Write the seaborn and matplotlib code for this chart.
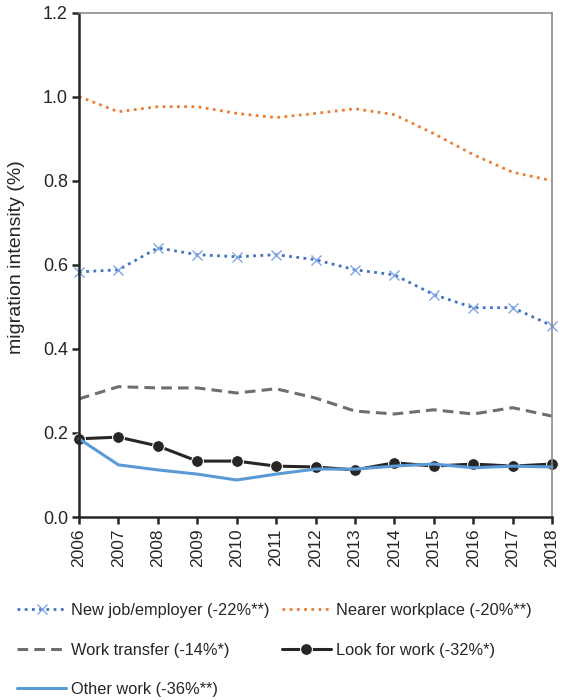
import matplotlib
matplotlib.use("Agg")
import matplotlib.pyplot as plt
import seaborn as sns
import pandas as pd

years = list(range(2006, 2019))
new_job = [0.583, 0.588, 0.640, 0.624, 0.619, 0.624, 0.612, 0.588, 0.576, 0.529, 0.498, 0.498, 0.455]
nearer_workplace = [1.000, 0.964, 0.976, 0.976, 0.960, 0.950, 0.960, 0.971, 0.957, 0.912, 0.862, 0.820, 0.800]
work_transfer = [0.281, 0.310, 0.307, 0.307, 0.295, 0.305, 0.283, 0.252, 0.245, 0.255, 0.245, 0.260, 0.240]
look_for_work = [0.186, 0.190, 0.169, 0.133, 0.133, 0.121, 0.119, 0.112, 0.129, 0.121, 0.126, 0.121, 0.126]
other_work = [0.186, 0.124, 0.112, 0.102, 0.088, 0.102, 0.114, 0.114, 0.121, 0.126, 0.117, 0.121, 0.119]

labels = [
    "New job/employer (-22%**)",
    "Nearer workplace (-20%**)",
    "Work transfer (-14%*)",
    "Look for work (-32%*)",
    "Other work (-36%**)",
]

sns.set_theme(style="white")
plt.rcParams["font.family"] = ["Liberation Sans", "DejaVu Sans"]

fig = plt.figure(figsize=(5.65, 7.0), dpi=100)
ax = fig.add_axes([79 / 565, 1 - 517 / 700, (552 - 79) / 565, (517 - 12.5) / 700])

styles = [
    (new_job, dict(color="#4472C4", linestyle=(0, (1, 1.6)), linewidth=2.0,
                   marker="x", markersize=7, markeredgewidth=1.0, markeredgecolor="#7FA6E0")),
    (nearer_workplace, dict(color="#ED7D31", linestyle=(0, (1, 1.6)), linewidth=2.0)),
    (work_transfer, dict(color="#6E6E6E", linestyle=(0, (3.5, 2)), linewidth=2.2)),
    (look_for_work, dict(color="#262626", linestyle="-", linewidth=2.2,
                         marker="o", markersize=8.5)),
    (other_work, dict(color="#5B9BD5", linestyle="-", linewidth=2.2)),
]

for (vals, kw), lab in zip(styles, labels):
    df = pd.DataFrame({"year": years, "value": vals})
    sns.lineplot(data=df, x="year", y="value", ax=ax, label=lab, clip_on=False, **kw)

ax.set_xlim(2006, 2018)
ax.set_ylim(0, 1.2)
ax.set_xticks(years)
ax.set_xticklabels([str(y) for y in years], rotation=90, fontsize=12.5)
yticks = [0.0, 0.2, 0.4, 0.6, 0.8, 1.0, 1.2]
ax.set_yticks(yticks)
ax.set_yticklabels([f"{v:.1f}" for v in yticks], fontsize=13)
ax.set_xlabel("")
ax.set_ylabel("migration intensity (%)", fontsize=14)
ax.yaxis.set_label_coords(-0.114, 0.515)

for side in ("left", "bottom"):
    ax.spines[side].set_color("#262626")
    ax.spines[side].set_linewidth(1.8)
for side in ("top", "right"):
    ax.spines[side].set_color("#8C8C8C")
    ax.spines[side].set_linewidth(1.2)
ax.tick_params(axis="both", which="both", direction="out", length=5, width=1.8,
               color="#262626", left=True, bottom=True, pad=3)

ax.legend_.remove()
handles, hl = ax.get_legend_handles_labels()
order = [0, 2, 4, 1, 3]
fig.legend([handles[i] for i in order], [hl[i] for i in order],
           loc="upper left", bbox_to_anchor=(17 / 565, 1 - 603 / 700), ncol=2,
           frameon=False, fontsize=11.8, handlelength=3.0, handletextpad=0.3,
           columnspacing=0.75, labelspacing=1.5, borderpad=0, borderaxespad=0)

fig.savefig("out.png", dpi=100)
